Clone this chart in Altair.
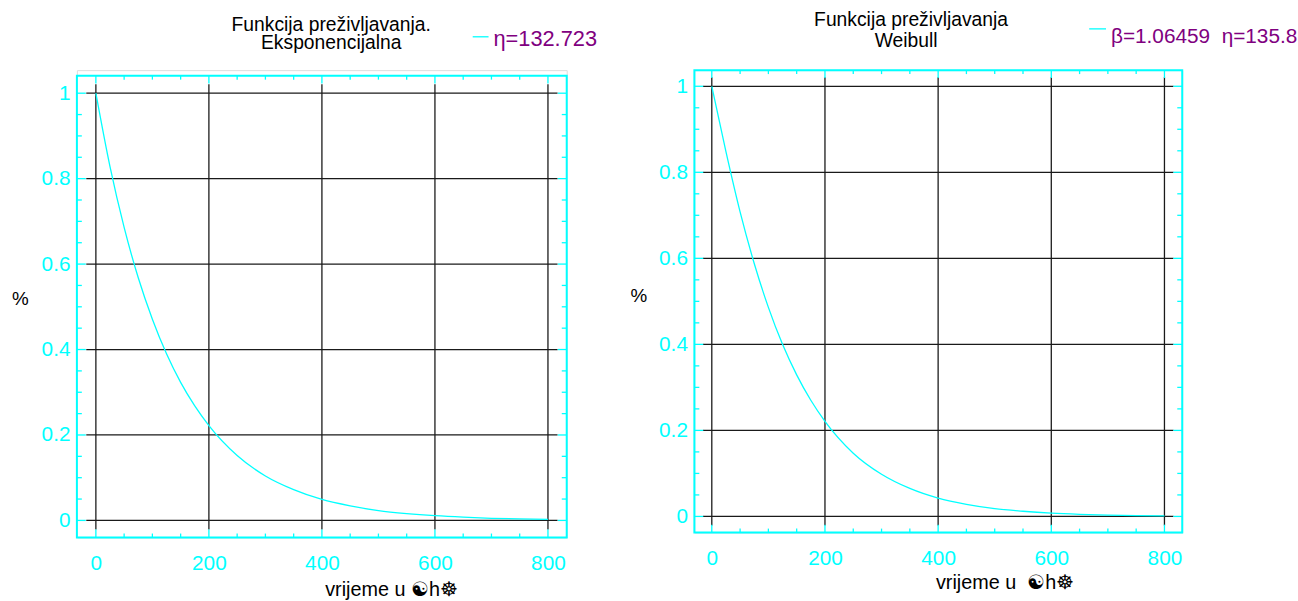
import altair as alt
import pandas as pd

# ---- data ----
t_exp = [0, 25, 50, 75, 100, 125, 150, 175, 200, 250, 300, 350, 400, 450, 500, 550, 600, 650, 700, 750, 800]
s_exp = [1.0, 0.828, 0.686, 0.568, 0.471, 0.390, 0.323, 0.268, 0.222, 0.152, 0.104, 0.072, 0.049,
         0.034, 0.023, 0.016, 0.011, 0.0075, 0.005, 0.0035, 0.0024]
t_wei = [0, 25, 50, 75, 100, 125, 150, 175, 200, 250, 300, 350, 400, 450, 500, 550, 600, 650, 700, 750, 800]
s_wei = [1.0, 0.848, 0.708, 0.588, 0.486, 0.400, 0.329, 0.270, 0.221, 0.147, 0.098, 0.065, 0.0425,
         0.028, 0.018, 0.012, 0.0077, 0.005, 0.0032, 0.0021, 0.0014]

x_major = [0, 200, 400, 600, 800]
y_major = [0, 0.2, 0.4, 0.6, 0.8, 1]
x_minor = [50, 100, 150, 250, 300, 350, 450, 500, 550, 650, 700, 750]
y_minor = [0.05, 0.1, 0.15, 0.25, 0.3, 0.35, 0.45, 0.5, 0.55, 0.65, 0.7, 0.75, 0.85, 0.9, 0.95]

CYAN = "#00FFFF"
PURPLE = "#800080"
FONT = "Liberation Sans"


def panel(t, s, W, H, top, xdom, ydom, gx, gy, title1, title2, t1x, t1y, t2x, t2y,
          legx, legy, legtext, legsize, ltx, lty, pctx, pcty, xtx, xty, xtitle, anchors):
    xs = alt.Scale(domain=xdom, nice=False, zero=False)
    ys = alt.Scale(domain=ydom, nice=False, zero=False, range=[H, top])
    one = pd.DataFrame({"a": [0]})

    xaxis = alt.Axis(values=x_major, ticks=False, domain=False, grid=False, title=None,
                     labelColor=CYAN, labelFontSize=21, labelFont=FONT, labelPadding=15,
                     labelFontWeight="normal")
    yaxis = alt.Axis(values=y_major, ticks=False, domain=False, grid=False, title=None,
                     labelColor=CYAN, labelFontSize=21, labelFont=FONT, labelPadding=7,
                     format="~g", labelFontWeight="normal")

    frame = alt.Chart(one).mark_rect(filled=False, stroke=CYAN, strokeWidth=2).encode(
        x=alt.value(0), x2=alt.value(W), y=alt.value(top), y2=alt.value(H))

    # grid lines
    hg = alt.Chart(pd.DataFrame({"y": y_major, "x1": [gx[0]] * 6, "x2": [gx[1]] * 6})).mark_rule(
        color="#1a1a1a", strokeWidth=1.3).encode(
        x=alt.X("x1:Q", scale=xs, axis=xaxis), x2="x2:Q",
        y=alt.Y("y:Q", scale=ys, axis=yaxis))
    vg = alt.Chart(pd.DataFrame({"x": x_major, "y1": [gy[0]] * 5, "y2": [gy[1]] * 5})).mark_rule(
        color="#1a1a1a", strokeWidth=1.3).encode(
        x=alt.X("x:Q", scale=xs), y=alt.Y("y1:Q", scale=ys), y2="y2:Q")

    # inward ticks on the frame
    def xt(vals, L):
        d = pd.DataFrame({"x": vals})
        tp = alt.Chart(d).mark_rule(color=CYAN, strokeWidth=1.3).encode(
            x=alt.X("x:Q", scale=xs), y=alt.value(top), y2=alt.value(top + L))
        bt = alt.Chart(d).mark_rule(color=CYAN, strokeWidth=1.3).encode(
            x=alt.X("x:Q", scale=xs), y=alt.value(H), y2=alt.value(H - L))
        return [tp, bt]

    def yt(vals, L):
        d = pd.DataFrame({"y": vals})
        lft = alt.Chart(d).mark_rule(color=CYAN, strokeWidth=1.3).encode(
            y=alt.Y("y:Q", scale=ys), x=alt.value(0), x2=alt.value(L))
        rgt = alt.Chart(d).mark_rule(color=CYAN, strokeWidth=1.3).encode(
            y=alt.Y("y:Q", scale=ys), x=alt.value(W), x2=alt.value(W - L))
        return [lft, rgt]

    ticks = xt(x_major, 8) + xt(x_minor, 4) + yt(y_major, 9) + yt(y_minor, 5)

    curve = alt.Chart(pd.DataFrame({"t": t, "s": s})).mark_line(
        color=CYAN, strokeWidth=1.3, interpolate="monotone").encode(
        x=alt.X("t:Q", scale=xs), y=alt.Y("s:Q", scale=ys))

    def txt(x, y, text, color="black", size=20, align="center"):
        return alt.Chart(one).mark_text(color=color, fontSize=size, font=FONT, align=align,
                                        baseline="middle").encode(
            x=alt.value(x), y=alt.value(y), text=alt.value(text))

    texts = [
        txt(t1x, t1y, title1, size=19.5), txt(t2x, t2y, title2, size=19.5),
        txt(ltx, lty, legtext, color=PURPLE, size=legsize, align="left"),
        txt(pctx, pcty, "%", size=19),
        txt(xtx, xty, xtitle, size=20),
    ]
    leg = alt.Chart(one).mark_rule(color=CYAN, strokeWidth=1.3).encode(
        x=alt.value(legx[0]), x2=alt.value(legx[1]), y=alt.value(legy), y2=alt.value(legy))

    anc = []
    for (ax, ay) in anchors:
        anc.append(alt.Chart(one).mark_rule(strokeOpacity=0, strokeWidth=0.01).encode(
            x=alt.value(ax), x2=alt.value(ax), y=alt.value(ay), y2=alt.value(ay)))

    return alt.layer(frame, hg, vg, *ticks, curve, leg, *texts, *anc).properties(width=W, height=H)


# both views share their origin at y = 66.7 px of the page
left = panel(t_exp, s_exp, 495, 472.3, 5.6, [-33.6, 833.2], [-0.040, 1.041], (-17, 817), (-0.021, 1.021),
             "Funkcija preživljavanja.", "Eksponencijalna", 257, -46, 257, -27,
             (400, 416), -33.7, "η=132.723", 22, 421, -31.5, -57, 231.3, 318, 525.3,
             "vrijeme u ☯h☸", [(-70, -66), (545, -66)])
right = panel(t_wei, s_wei, 493, 467.3, 0, [-30.8, 831.4], [-0.0375, 1.0375], (-15.6, 816), (-0.021, 1.021),
              "Funkcija preživljavanja", "Weibull", 219, -50.5, 214, -29,
              (399, 416), -41.7, "β=1.06459\u00a0\u00a0η=135.8", 21, 421, -33.7, -56, 228.3, 314, 518.3,
              "vrijeme u\u00a0\u00a0☯h☸", [(-70, -66)])

chart = alt.hconcat(left, right, spacing=7).properties(
    padding={"left": 6.7, "top": 0.7, "right": 0, "bottom": 0}
).configure_view(strokeOpacity=0).configure(background="white")

chart.save("out.html", embed_options={"renderer": "svg", "actions": False})
